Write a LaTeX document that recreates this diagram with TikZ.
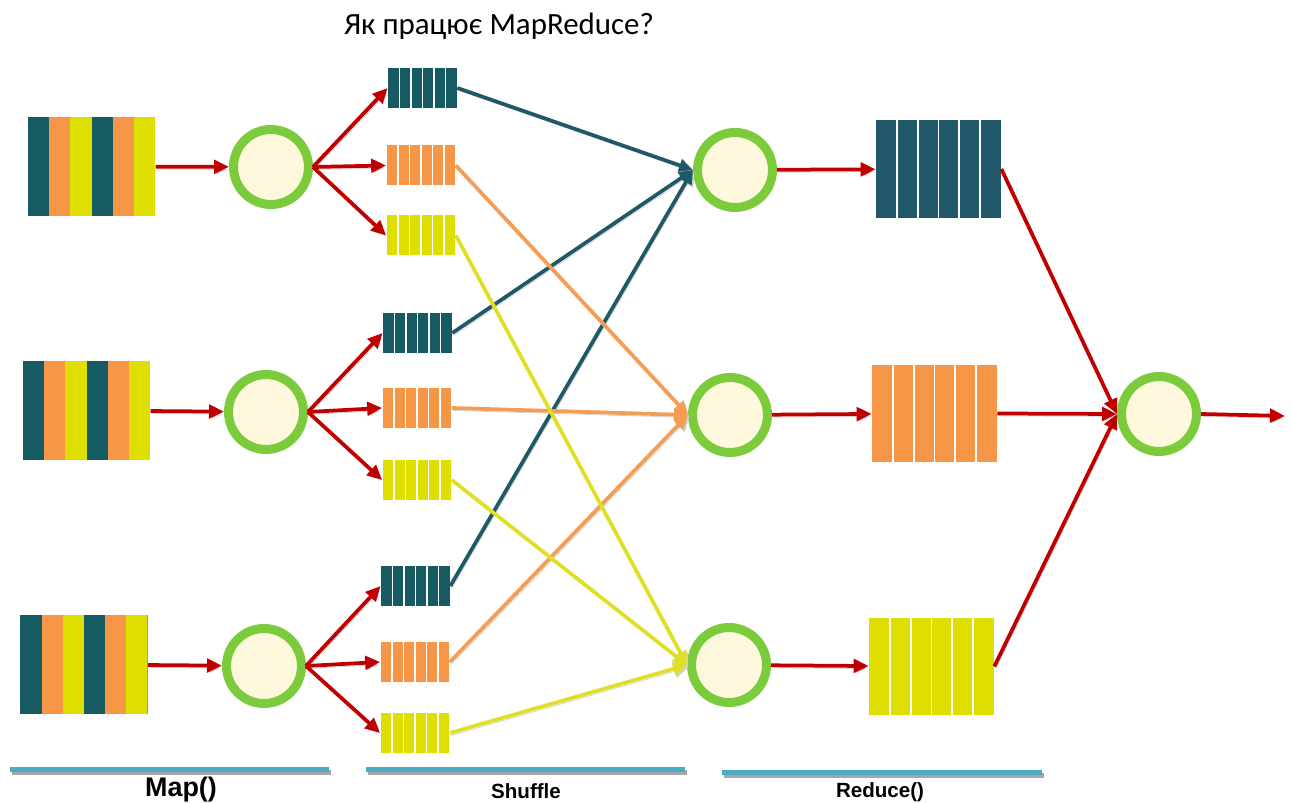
\documentclass[tikz,border=0pt]{standalone}
\usepackage{fontspec}
\setmainfont{Liberation Sans}
\newfontfamily\titlefont{Carlito}
\usetikzlibrary{arrows.meta,calc}
\definecolor{cT}{HTML}{165A62}
\definecolor{cTr}{HTML}{21586A}
\definecolor{cO}{HTML}{F79646}
\definecolor{cY}{HTML}{DEDE00}
\definecolor{cRed}{HTML}{C00000}
\definecolor{cGreen}{HTML}{7CCB3C}
\definecolor{cCream}{HTML}{FEF8DC}
\definecolor{cBlue}{HTML}{4BACC6}
\definecolor{aT}{HTML}{1F5866}
\definecolor{aO}{HTML}{F59C55}
\definecolor{aY}{HTML}{DFDF25}
\begin{document}
\begin{tikzpicture}[x=0.02cm,y=-0.02cm,
  inblk/.style={rectangle, inner sep=0, minimum width=2.55cm, minimum height=2.0cm, fill=cT,
    path picture={
      \foreach \c [count=\i from 0] in {cT,cO,cY,cT,cO,cY}{
        \pgfmathtruncatemacro\j{\i+1}
        \fill[\c] ($(path picture bounding box.south west)!\i/6!(path picture bounding box.south east)$)
          rectangle ($(path picture bounding box.north west)!\j/6!(path picture bounding box.north east)$);
      }}},
  striped/.style={rectangle, inner sep=0, fill=#1,
    path picture={
      \foreach \i in {1,...,5}
        \draw[white, line width=1.1pt]
          ($(path picture bounding box.south west)!\i/6!(path picture bounding box.south east)$) --
          ($(path picture bounding box.north west)!\i/6!(path picture bounding box.north east)$);
    }},
  sblk/.style={striped=#1, minimum width=1.38cm, minimum height=0.8cm},
  rblk/.style={striped=#1, minimum width=2.5cm, minimum height=1.96cm},
  circ/.style={circle, draw=cGreen, fill=cCream, line width=0.18cm, minimum size=1.5cm, inner sep=0, outer sep=0.09cm},
  shad/.style={preaction={draw=black!18, transform canvas={xshift=0.8pt,yshift=-1.4pt}}},
  redarr/.style={shad, draw=cRed, line width=0.075cm, -{Triangle[length=0.3cm,width=0.27cm]}},
  sh/.style={shad, line width=0.075cm, -{Triangle[length=0.28cm,width=0.25cm]}},
  bar/.style={draw=cBlue, line width=0.1cm},
  barshadow/.style={draw=black!35, line width=0.1cm},
  lbl/.style={font=\bfseries\fontsize{11.7}{14}\selectfont}
]
\useasboundingbox (0,0) rectangle (1292,803);

% title
\node[font=\titlefont\fontsize{17.6}{20}\selectfont, anchor=base, inner sep=0] (title) at (499,35) {Як працює MapReduce?};

% input blocks
\node[inblk] (in1) at (91.5,166.5) {};
\node[inblk] (in2) at (86.5,410.5) {};
\node[inblk] (in3) at (84,664.5) {};

% shuffle blocks
\node[sblk=cT] (s1t) at (422.5,88) {};
\node[sblk=cO] (s1o) at (421,165.5) {};
\node[sblk=cY] (s1y) at (421,235.5) {};
\node[sblk=cT] (s2t) at (417.5,333) {};
\node[sblk=cO] (s2o) at (417,408) {};
\node[sblk=cY] (s2y) at (417,480) {};
\node[sblk=cT] (s3t) at (415.5,586) {};
\node[sblk=cO] (s3o) at (415,662) {};
\node[sblk=cY] (s3y) at (415,733) {};

% reduce blocks
\node[rblk=cTr] (rb1) at (938.5,169) {};
\node[rblk=cO] (rb2) at (934.5,413.5) {};
\node[rblk=cY] (rb3) at (931.5,666.5) {};

% map circles
\node[circ] (mc1) at (271,167) {};
\node[circ] (mc2) at (266,412) {};
\node[circ] (mc3) at (264,666) {};

% reduce circles
\node[circ] (rc1) at (735,170) {};
\node[circ] (rc2) at (730,415) {};
\node[circ] (rc3) at (729,665) {};

% final circle
\node[circ] (fc) at (1159,414) {};
\coordinate (out) at (1285,416);

% input -> map
\draw[redarr] (in1) -- (mc1);
\draw[redarr] (in2) -- (mc2);
\draw[redarr] (in3) -- (mc3);

% map -> shuffle blocks
\foreach \r in {1,2,3}{
  \draw[redarr] (mc\r.east) -- (s\r t.west);
  \draw[redarr] (mc\r.east) -- (s\r o.west);
  \draw[redarr] (mc\r.east) -- (s\r y.west);
}

% shuffle
\foreach \r in {1,2,3}{
  \draw[sh, aT] (s\r t.east) -- (rc1.west);
}
\foreach \r in {1,2,3}{
  \draw[sh, aO] (s\r o.east) -- (rc2.west);
}
\foreach \r in {1,2,3}{
  \draw[sh, aY] (s\r y.east) -- (rc3.west);
}

% reduce circles -> reduce blocks
\draw[redarr] (rc1) -- (rb1);
\draw[redarr] (rc2) -- (rb2);
\draw[redarr] (rc3) -- (rb3);

% reduce blocks -> final
\draw[redarr] (rb1.east) -- (fc.west);
\draw[redarr] (rb2.east) -- (fc.west);
\draw[redarr] (rb3.east) -- (fc.west);
\draw[redarr] (fc.east) -- (out);

% bottom bars
\draw[barshadow] (12,772.5) -- (331,772.5);
\draw[bar] (10,769) -- (329,769);
\draw[barshadow] (368,772.5) -- (687,772.5);
\draw[bar] (366,769) -- (685,769);
\draw[barshadow] (724,775.5) -- (1044,775.5);
\draw[bar] (722,772) -- (1042,772);

% labels
\node[font=\bfseries\fontsize{15.3}{18}\selectfont] (lmap) at (181,790) {Map()};
\node[lbl] (lshuffle) at (526,791) {Shuffle};
\node[lbl] (lreduce) at (880,792) {Reduce()};
\end{tikzpicture}
\end{document}
